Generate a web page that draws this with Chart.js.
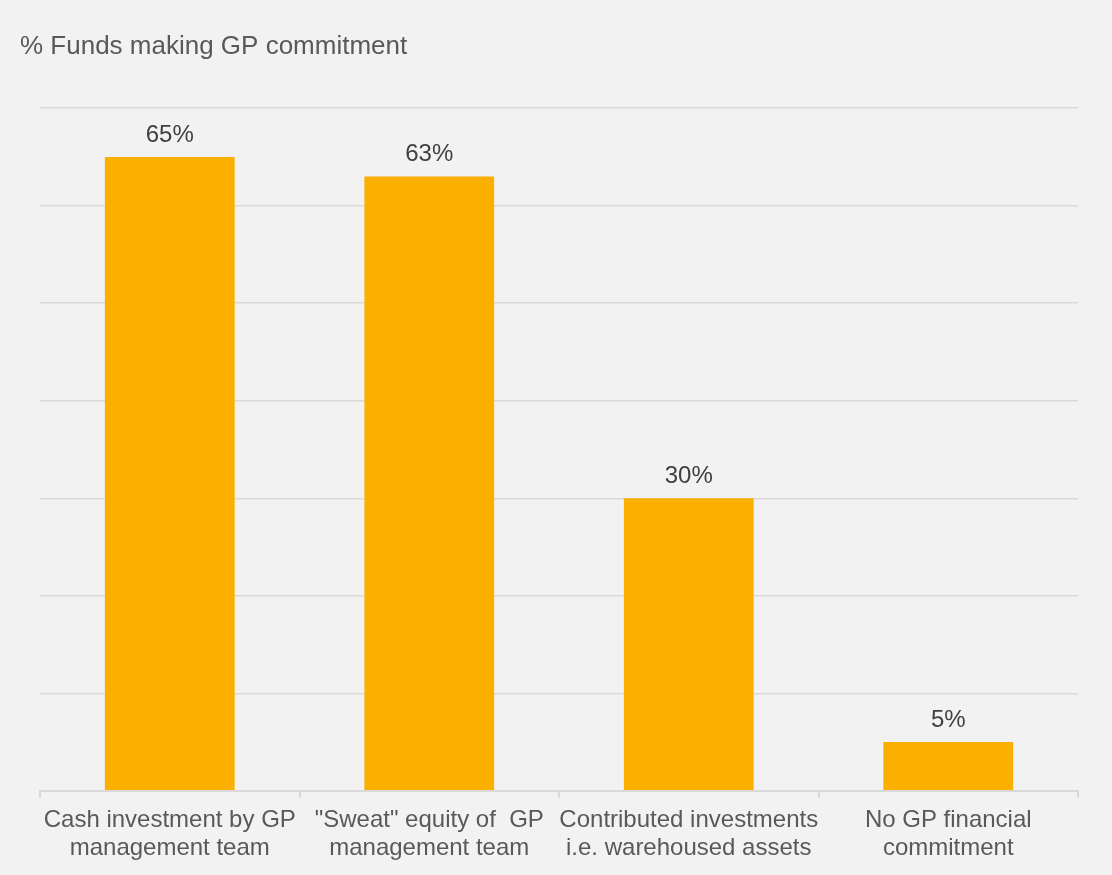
<!DOCTYPE html>
<html>
<head>
<meta charset="utf-8">
<script src="https://cdn.jsdelivr.net/npm/chart.js@4"></script>
<style>
  html, body { margin: 0; padding: 0; background: #f2f2f2; }
  #wrap { width: 1112px; height: 875px; position: relative; }
</style>
</head>
<body>
<div id="wrap"><canvas id="chart"></canvas></div>
<script>
const categories = [
    ['Cash investment by GP', 'management team'],
    ['"Sweat" equity of  GP', 'management team'],
    ['Contributed investments', 'i.e. warehoused assets'],
    ['No GP financial', 'commitment'],
];
const values = [65, 63, 30, 5];
const yMax = 70;
const yStep = 10;

const FONT = '"Liberation Sans", Arial, sans-serif';

// value labels above each bar
const barLabels = {
    id: 'barLabels',
    afterDatasetsDraw(chart) {
        const { ctx } = chart;
        const meta = chart.getDatasetMeta(0);
        ctx.save();
        ctx.font = '24px ' + FONT;
        ctx.fillStyle = '#404040';
        ctx.textAlign = 'center';
        ctx.textBaseline = 'alphabetic';
        meta.data.forEach((bar, i) => {
            ctx.fillText(values[i] + '%', bar.x, bar.y - 15);
        });
        ctx.restore();
    },
};

new Chart(document.getElementById('chart'), {
    type: 'bar',
    data: {
        labels: categories,
        datasets: [{
            data: values,
            backgroundColor: '#fbb000',
            borderWidth: 0,
            categoryPercentage: 1,
            barPercentage: 0.5,
        }],
    },
    plugins: [barLabels],
    options: {
        responsive: true,
        maintainAspectRatio: false,
        animation: false,
        layout: { padding: { left: 20, right: 34, top: 31, bottom: 4 } },
        plugins: {
            legend: { display: false },
            tooltip: { enabled: false },
            title: {
                display: true,
                text: '% Funds making GP commitment',
                align: 'start',
                color: '#595959',
                font: { family: FONT, size: 26, weight: 'normal' },
                padding: { top: 0, bottom: 46 },
            },
        },
        scales: {
            x: {
                grid: {
                    display: true,
                    drawOnChartArea: false,
                    drawTicks: true,
                    tickLength: 7,
                    color: '#d9d9d9',
                    lineWidth: 2,
                },
                border: { color: '#d9d9d9', width: 2 },
                ticks: {
                    color: '#595959',
                    padding: 9,
                    maxRotation: 0,
                    autoSkip: false,
                    font: { family: FONT, size: 24, lineHeight: 1.15 },
                },
            },
            y: {
                min: 0,
                max: yMax,
                afterFit(scale) { scale.width = 20; },
                ticks: { display: false, stepSize: yStep },
                grid: { color: '#d9d9d9', lineWidth: 1.5, drawTicks: false },
                border: { display: false },
            },
        },
    },
});
</script>
</body>
</html>
